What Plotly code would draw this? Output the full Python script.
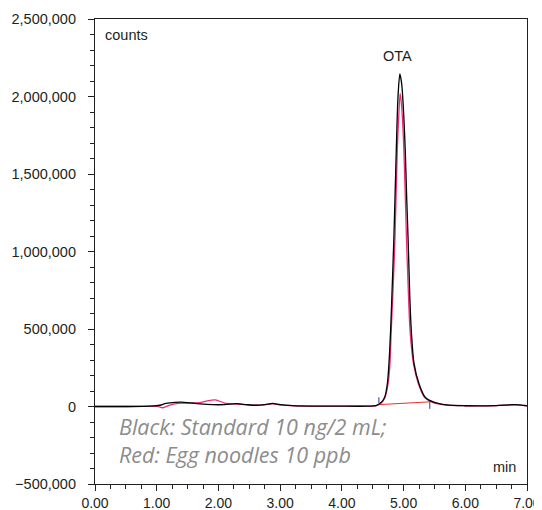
import plotly.graph_objects as go

# Black trace: Standard 10 ng/2 mL (time in min, counts)
t_black = [0.0, 0.5, 0.9, 1.05, 1.15, 1.3, 1.4, 1.5, 1.7, 1.9, 2.1, 2.3, 2.45, 2.6, 2.75, 2.88,
           3.0, 3.2, 3.5, 4.0, 4.4, 4.55, 4.64, 4.694, 4.737, 4.763, 4.79, 4.81, 4.844, 4.882,
           4.91, 4.94, 4.97, 5.0, 5.027, 5.05, 5.076, 5.1, 5.125, 5.17, 5.25, 5.35, 5.49, 5.7,
           6.0, 6.5, 6.8, 7.0]
y_black = [0, 0, 2000, 8000, 20000, 27000, 28000, 25000, 17000, 12000, 12000, 18000, 12000, 8000, 12000, 20000,
           12000, 6000, 3000, 2000, 2000, 5000, 28000, 60000, 147000, 276000, 491000, 706000, 1100000, 1654000,
           2000000, 2145000, 2080000, 1900000, 1654000, 1350000, 1050000, 720000, 491000, 276000, 147000, 60000, 28000, 10000,
           5000, 6000, 12000, 5000]

# Red trace: Egg noodles 10 ppb
t_red = [0.0, 0.5, 0.9, 1.0, 1.1, 1.2, 1.35, 1.5, 1.7, 1.8, 1.95, 2.1, 2.3, 2.45, 2.6, 2.75, 2.88,
         3.0, 3.2, 3.5, 4.0, 4.4, 4.55, 4.64, 4.70, 4.75, 4.78, 4.80, 4.825, 4.86, 4.898,
         4.925, 4.945, 4.97, 5.005, 5.048, 5.08, 5.105, 5.16, 5.24, 5.34, 5.48, 5.7,
         6.0, 6.5, 6.8, 7.0]
y_red = [0, 0, 2000, 3000, -8000, 8000, 20000, 22000, 25000, 35000, 43000, 22000, 16000, 12000, 8000, 11000, 17000,
         11000, 6000, 3000, 2000, 2000, 4000, 22000, 60000, 150000, 280000, 490000, 710000, 1072000, 1654000,
         1900000, 2020000, 1930000, 1654000, 1072000, 710000, 490000, 276000, 147000, 60000, 25000, 9000,
         5000, 6000, 11000, 5000]

# Integration baseline of the OTA peak
t_base = [4.60, 5.425]
y_base = [12000, 30000]

# Peak start / end markers
t_mark_start = [4.60, 4.60]
y_mark_start = [20000, 60000]
t_mark_end = [5.425, 5.425]
y_mark_end = [-15000, 35000]

x_ticks = [0, 1, 2, 3, 4, 5, 6, 7]
y_ticks = [-500000, 0, 500000, 1000000, 1500000, 2000000, 2500000]

peak_label = "OTA"
peak_label_pos = (4.9, 2262000)

fig = go.Figure()
fig.add_trace(go.Scatter(x=t_base, y=y_base, mode="lines",
                         line=dict(color="#e8322e", width=1), showlegend=False))
fig.add_trace(go.Scatter(x=t_red, y=y_red, mode="lines", line_shape="spline",
                         line=dict(color="#ec2a7a", width=1.3, smoothing=0.8), showlegend=False))
fig.add_trace(go.Scatter(x=t_black, y=y_black, mode="lines", line_shape="spline",
                         line=dict(color="#000000", width=1.3, smoothing=0.8), showlegend=False))
for tx, ty in [(t_mark_start, y_mark_start), (t_mark_end, y_mark_end)]:
    fig.add_trace(go.Scatter(x=tx, y=ty, mode="lines",
                             line=dict(color="#2a3f9a", width=1), showlegend=False))

axis_font = dict(family="Liberation Sans, Arial, sans-serif", size=14.5, color="#231f20")
x_font = dict(family="Liberation Sans, Arial, sans-serif", size=14, color="#231f20")

fig.update_xaxes(range=[0, 7], tickvals=x_ticks, tickformat=".2f",
                 ticks="outside", ticklen=6, tickwidth=1, tickcolor="#231f20",
                 minor=dict(ticks="outside", ticklen=4, dtick=0.25, tickcolor="#231f20"),
                 showline=True, linecolor="#231f20", linewidth=1.2, mirror=True,
                 showgrid=False, zeroline=False, tickfont=x_font, automargin=False,
                 ticklabelstandoff=0)
fig.update_yaxes(range=[-500000, 2500000], tickvals=y_ticks, tickformat=",d",
                 ticks="outside", ticklen=6, tickwidth=1, tickcolor="#231f20",
                 minor=dict(ticks="outside", ticklen=4, dtick=100000, tickcolor="#231f20"),
                 showline=True, linecolor="#231f20", linewidth=1.2, mirror=True,
                 showgrid=False, zeroline=False, tickfont=axis_font, automargin=False,
                 ticklabelstandoff=9)

fig.add_annotation(x=peak_label_pos[0], y=peak_label_pos[1], text=peak_label, showarrow=False,
                   font=axis_font, xanchor="center", yanchor="middle")
fig.add_annotation(xref="paper", yref="paper", x=0.019, y=0.988, text="counts", showarrow=False,
                   font=axis_font, xanchor="left", yanchor="top")
fig.add_annotation(xref="paper", yref="paper", x=0.98, y=0.014, text="min", showarrow=False,
                   font=axis_font, xanchor="right", yanchor="bottom")
fig.add_annotation(xref="paper", yref="paper", x=0.052, y=0.0945,
                   text="<i>Black: Standard 10 ng/2 mL;</i><br><i>Red: Egg noodles 10 ppb</i>",
                   showarrow=False, align="left", xanchor="left", yanchor="middle",
                   font=dict(family="Open Sans, sans-serif", size=21.5, color="#8c8c8c"))

# the page body adds an 8px offset, so margins are shifted to keep the plot area in place
fig.update_layout(width=542, height=510, margin=dict(l=87, r=23, t=11, b=34),
                  plot_bgcolor="white", paper_bgcolor="white")
fig.write_html("out.html")
